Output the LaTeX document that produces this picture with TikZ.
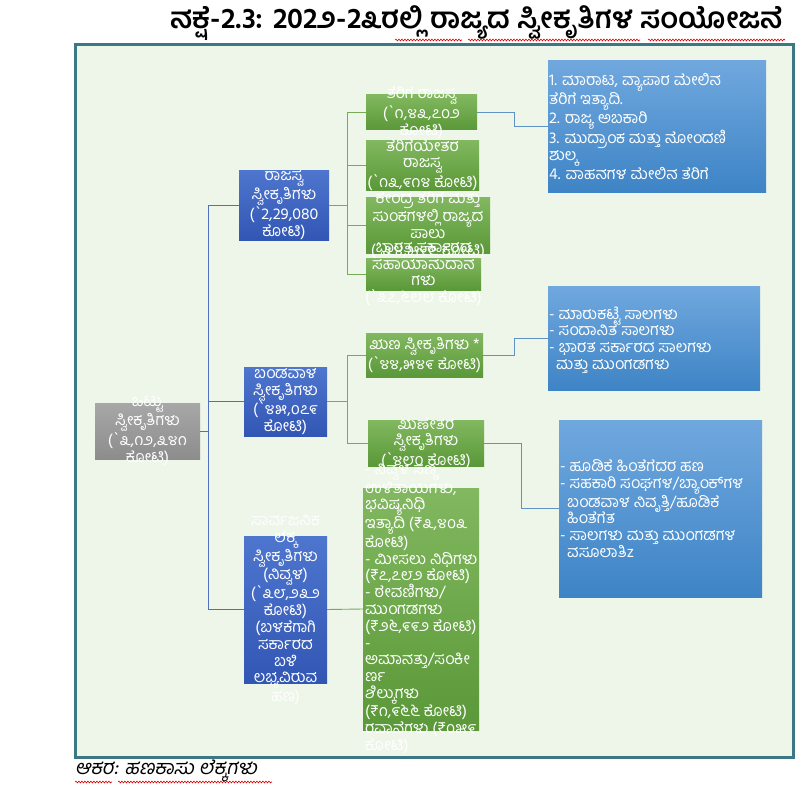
\documentclass[tikz,border=0pt]{standalone}
\usepackage{fontspec}
\setmainfont{Liberation Sans}
\newfontfamily\kn[Script=Kannada,Ligatures=TeXOff]{Hind Mysuru}
\newfontfamily\knit[Script=Kannada,Ligatures=TeXOff,FakeSlant=0.2]{Hind Mysuru}
\usetikzlibrary{calc,decorations.pathmorphing}
\definecolor{framebg}{RGB}{238,245,233}
\definecolor{frameln}{RGB}{59,119,132}
\definecolor{gtop}{RGB}{130,184,96}
\definecolor{gbot}{RGB}{90,152,56}
\definecolor{btop}{RGB}{78,118,206}
\definecolor{bbot}{RGB}{50,86,180}
\definecolor{ltop}{RGB}{112,168,222}
\definecolor{lbot}{RGB}{62,132,198}
\definecolor{grtop}{RGB}{168,168,168}
\definecolor{grbot}{RGB}{140,140,140}
\definecolor{blueln}{RGB}{79,112,190}
\definecolor{greenln}{RGB}{118,172,84}
\definecolor{lblueln}{RGB}{96,146,196}
\tikzset{
  x=1pt,y=-1pt,
  boxbase/.style={inner sep=0pt,outer sep=0pt,draw=none},
  gbox/.style={boxbase,top color=gtop,bottom color=gbot},
  bbox/.style={boxbase,top color=btop,bottom color=bbot},
  lbox/.style={boxbase,top color=ltop,bottom color=lbot},
  grbox/.style={boxbase,top color=grtop,bottom color=grbot},
  ctxt/.style={text=white,font=\kn\fontsize{16}{16.8}\selectfont,align=center,inner sep=0pt},
  ltxt/.style={text=white,font=\kn\fontsize{16}{16.8}\selectfont,align=left,inner sep=0pt,anchor=west},
  bline/.style={draw=blueln,line width=0.9pt},
  gline/.style={draw=greenln,line width=0.9pt},
  lline/.style={draw=lblueln,line width=0.9pt},
  wavy/.style={draw=red!85!black,line width=0.6pt,decorate,decoration={snake,amplitude=0.9pt,segment length=3pt}}
}
\begin{document}
\begin{tikzpicture}
\useasboundingbox (0,0) rectangle (800,789);
% frame
\node[boxbase,draw=frameln,line width=3pt,fill=framebg,minimum width=718pt,minimum height=712pt] (frame) at (434,401) {};
% title and source
\node[font=\kn\bfseries\fontsize{29}{31}\selectfont,inner sep=0pt] (title) at (477,23) {ನಕ್ಷೆ-2.3: 202೨-2೩ರಲ್ಲಿ ರಾಜ್ಯದ ಸ್ವೀಕೃತಿಗಳ ಸಂಯೋಜನೆ};
\node[font=\knit\fontsize{20}{22}\selectfont,inner sep=0pt,anchor=west] (src) at (75,771) {ಆಕರ: ಹಣಕಾಸು ಲೆಕ್ಕಗಳು};
\draw[wavy] (395,40) -- (462,40);
\draw[wavy] (468,40) -- (640,40);
\draw[wavy] (648,40) -- (785,40);
\draw[wavy] (75,782) -- (112,782);
\draw[wavy] (118,782) -- (272,782);
% boxes
\node[grbox,minimum width=105pt,minimum height=56pt] (total) at (147.5,431) {};
\node[bbox,minimum width=90pt,minimum height=70pt] (rev) at (284,205) {};
\node[bbox,minimum width=83pt,minimum height=69pt] (cap) at (285.5,401.5) {};
\node[bbox,minimum width=83pt,minimum height=147pt] (pub) at (285.5,609.5) {};
\node[gbox,minimum width=111pt,minimum height=35pt] (tax) at (421.5,112.5) {};
\node[gbox,minimum width=113pt,minimum height=50pt] (nontax) at (422.5,165) {};
\node[gbox,minimum width=124pt,minimum height=56pt] (central) at (428,225) {};
\node[gbox,minimum width=115pt,minimum height=32pt] (grants) at (423.5,274) {};
\node[gbox,minimum width=117pt,minimum height=44pt] (debt) at (424.5,355) {};
\node[gbox,minimum width=116pt,minimum height=46pt] (nondebt) at (426,443) {};
\node[gbox,minimum width=116pt,minimum height=242pt] (pubd) at (421,609) {};
\node[lbox,minimum width=218pt,minimum height=131pt] (bt) at (657,126.5) {};
\node[lbox,minimum width=212pt,minimum height=104pt] (bm) at (654,338) {};
\node[lbox,minimum width=203pt,minimum height=177pt] (bb) at (660.5,508.5) {};
% connectors
\draw[bline] (total.east) -- ++(8,0) coordinate (tj);
\draw[bline] (tj) |- (rev.west);
\draw[bline] (tj) |- (cap.west);
\draw[bline] (tj) |- (pub.west);
\draw[gline] (rev.east) -- ++(18,0) coordinate (rj);
\draw[gline] (rj) |- (tax.west);
\draw[gline] (rj) |- (nontax.west);
\draw[gline] (rj) |- (central.west);
\draw[gline] (rj) |- (grants.west);
\draw[gline] (cap.east) -- ++(20,0) coordinate (cj);
\draw[gline] (cj) |- (debt.west);
\draw[gline] (cj) |- (nondebt.west);
\draw[gline] (pub.east) -- (pubd.west);
\draw[lline] (tax.east) -- ++(37,0) coordinate (xj1) |- (bt.west);
\draw[lline] (debt.east) -- ++(31,0) coordinate (xj2) |- (bm.west);
\draw[lline] (nondebt.east) -- ++(37,0) coordinate (xj3) |- (bb.west);
% texts
\node[ctxt] (totalT) at (total.center) {ಒಟ್ಟು\\ಸ್ವೀಕೃತಿಗಳು\\(`೩,೧೨,೩೪೧\\ಕೋಟಿ)};
\node[ctxt] (revT) at (rev.center) {ರಾಜಸ್ವ\\ಸ್ವೀಕೃತಿಗಳು\\(`2,29,080\\ಕೋಟಿ)};
\node[ctxt] (capT) at (cap.center) {ಬಂಡವಾಳ\\ಸ್ವೀಕೃತಿಗಳು\\(`೪೫,೦೭೯\\ಕೋಟಿ)};
\node[ctxt] (pubT) at (pub.center) {ಸಾರ್ವಜನಿಕ\\ಲೆಕ್ಕ\\ಸ್ವೀಕೃತಿಗಳು\\(ನಿವ್ವಳ)\\(`೩೮,೨೩೨\\ಕೋಟಿ)\\(ಬಳಕೆಗಾಗಿ\\ಸರ್ಕಾರದ\\ಬಳಿ\\ಲಭ್ಯವಿರುವ\\ಹಣ)};
\node[ctxt] (taxT) at (tax.center) {ತೆರಿಗೆ ರಾಜಸ್ವ\\(`೧,೪೩,೭೦೨\\ಕೋಟಿ)};
\node[ctxt] (nontaxT) at (nontax.center) {ತೆರಿಗೆಯೇತರ\\ರಾಜಸ್ವ\\(`೧೩,೯೧೪ ಕೋಟಿ)};
\node[ctxt] (centralT) at (central.center) {ಕೇಂದ್ರ ತೆರಿಗೆ ಮತ್ತು\\ಸುಂಕಗಳಲ್ಲಿ ರಾಜ್ಯದ\\ಪಾಲು\\(`೩೪,೫೯೬ ಕೋಟಿ)};
\node[ctxt] (grantsT) at (grants.center) {ಭಾರತ ಸರ್ಕಾರದ\\ಸಹಾಯಾನುದಾನ\\ಗಳು\\(`೩೭,೬೮೮ ಕೋಟಿ)};
\node[ctxt] (debtT) at (debt.center) {ಋಣ ಸ್ವೀಕೃತಿಗಳು *\\(`೪೪,೫೪೯ ಕೋಟಿ)};
\node[ctxt] (nondebtT) at (nondebt.center) {ಋಣೇತರ\\ಸ್ವೀಕೃತಿಗಳು\\(`೪೮೦ ಕೋಟಿ)};
\node[ltxt] (pubdT) at ($(pubd.west)+(2,0)$) {- ನಿವ್ವಳ ಸಣ್ಣ\\ಉಳಿತಾಯಗಳು,\\ಭವಿಷ್ಯನಿಧಿ\\ಇತ್ಯಾದಿ (₹೩,೪೦೩\\ಕೋಟಿ)\\- ಮೀಸಲು ನಿಧಿಗಳು\\(₹೭,೭೮೨ ಕೋಟಿ)\\- ಠೇವಣಿಗಳು/\\ಮುಂಗಡಗಳು\\(₹೨೬,೯೯೨ ಕೋಟಿ)\\-\\ಅಮಾನತ್ತು/ಸಂಕೀ\\ರ್ಣ\\ಶಿಲ್ಕುಗಳು\\(₹೧,೯೬೬ ಕೋಟಿ)\\ರವಾನೆಗಳು (₹೦೫೯\\ಕೋಟಿ)};
\node[ltxt] (btT) at ($(bt.west)+(1,0)$) {1. ಮಾರಾಟ, ವ್ಯಾಪಾರ ಮೇಲಿನ\\ತೆರಿಗೆ ಇತ್ಯಾದಿ.\\2. ರಾಜ್ಯ ಅಬಕಾರಿ\\3. ಮುದ್ರಾಂಕ ಮತ್ತು ನೋಂದಣಿ\\ಶುಲ್ಕ\\4. ವಾಹನಗಳ ಮೇಲಿನ ತೆರಿಗೆ};
\node[ltxt] (bmT) at ($(bm.west)+(1,2)$) {- ಮಾರುಕಟ್ಟೆ ಸಾಲಗಳು\\- ಸಂದಾನಿತ ಸಾಲಗಳು\\- ಭಾರತ ಸರ್ಕಾರದ ಸಾಲಗಳು\\\hspace*{7pt}ಮತ್ತು ಮುಂಗಡಗಳು};
\node[ltxt] (bbT) at ($(bb.west)+(1,0)$) {- ಹೂಡಿಕೆ ಹಿಂತೆಗೆದರ ಹಣ\\- ಸಹಕಾರಿ ಸಂಘಗಳ/ಬ್ಯಾಂಕ್‌ಗಳ\\\hspace*{7pt}ಬಂಡವಾಳ ನಿವೃತ್ತಿ/ಹೂಡಿಕೆ\\\hspace*{7pt}ಹಿಂತೆಗೆತ\\- ಸಾಲಗಳು ಮತ್ತು ಮುಂಗಡಗಳ\\\hspace*{7pt}ವಸೂಲಾತಿz};
\end{tikzpicture}
\end{document}
